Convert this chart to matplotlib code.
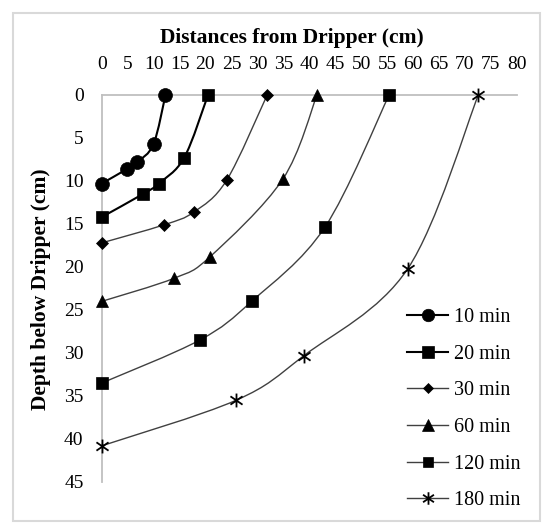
import numpy as np
import matplotlib
matplotlib.use('Agg')
import matplotlib.pyplot as plt
from matplotlib.path import Path
from matplotlib.patches import PathPatch, Rectangle
from matplotlib.lines import Line2D

# distances from dripper (cm) and depth below dripper (cm), per run time
labels = ['10 min', '20 min', '30 min', '60 min', '120 min', '180 min']
dist_10 = [12.3, 10.0, 6.9, 4.9, 0]
depth_10 = [0, 5.7, 7.8, 8.6, 10.3]
dist_20 = [20.5, 15.9, 11.0, 8.0, 0]
depth_20 = [0, 7.3, 10.3, 11.5, 14.2]
dist_30 = [31.9, 24.1, 17.8, 12.0, 0]
depth_30 = [0, 9.9, 13.6, 15.1, 17.2]
dist_60 = [41.5, 34.9, 20.9, 14.0, 0]
depth_60 = [0, 9.8, 18.8, 21.3, 24.0]
dist_120 = [55.4, 43.0, 28.9, 18.9, 0]
depth_120 = [0, 15.4, 24.0, 28.5, 33.5]
dist_180 = [72.6, 59.0, 39.0, 25.9, 0]
depth_180 = [0, 20.2, 30.3, 35.5, 40.8]

xs = [dist_10, dist_20, dist_30, dist_60, dist_120, dist_180]
ys = [depth_10, depth_20, depth_30, depth_60, depth_120, depth_180]

star = Path([(0, -1), (0, 1), (-0.87, -0.6), (0.87, 0.6), (-0.87, 0.6), (0.87, -0.6)],
            [Path.MOVETO, Path.LINETO, Path.MOVETO, Path.LINETO, Path.MOVETO, Path.LINETO])
markers = ['o', 's', 'D', '^', 's', star]
msizes = [10, 8.8, 6.2, 9.3, 8.2, 10]
colors = ['black', 'black', '#404040', '#404040', '#404040', '#404040']
widths = [1.5, 1.5, 1.0, 1.0, 1.0, 1.0]

plt.rcParams['font.family'] = ['Liberation Serif', 'DejaVu Serif']


def smooth_path(x, y):
    # Excel-style smoothed line as cubic Bezier segments through the points
    pts = np.column_stack([x, y]).astype(float)
    n = len(pts)
    verts = [pts[0]]
    codes = [Path.MOVETO]
    for i in range(n - 1):
        p0 = pts[i - 1] if i > 0 else pts[i]
        p1 = pts[i]
        p2 = pts[i + 1]
        p3 = pts[i + 2] if i + 2 < n else pts[i + 1]
        verts += [p1 + (p2 - p0) / 6, p2 - (p3 - p1) / 6, p2]
        codes += [Path.CURVE4] * 3
    return Path(verts, codes)


fig = plt.figure(figsize=(5.49, 5.26), dpi=100)
fig.patches.append(Rectangle((13 / 549, 1 - 521 / 526), 527 / 549, 508 / 526,
                             transform=fig.transFigure, fill=False,
                             edgecolor='#d9d9d9', linewidth=1.5))
ax = fig.add_axes([0.1852, 0.0837, 0.756, 0.7357])

handles = []
for x, y, lab, m, ms, c, w in zip(xs, ys, labels, markers, msizes, colors, widths):
    ax.add_patch(PathPatch(smooth_path(x, y), facecolor='none', edgecolor=c,
                           linewidth=w, zorder=2, clip_on=False))
    mew = 1.3 if m is star else 0.5
    ax.plot(x, y, linestyle='none', marker=m, markersize=ms, color='black',
            markeredgewidth=mew, zorder=3, clip_on=False)
    handles.append(Line2D([], [], color=c, linewidth=w, marker=m, markersize=ms * 0.9,
                          markerfacecolor='black', markeredgecolor='black',
                          markeredgewidth=mew))

ax.set_xlim(0, 80)
ax.set_ylim(45, 0)
ax.set_xticks(range(0, 81, 5))
ax.set_yticks(range(0, 46, 5))
ax.xaxis.tick_top()
ax.tick_params(length=0, labelsize=14, pad=16)
ax.tick_params(axis='y', pad=13)
for side in ['right', 'bottom']:
    ax.spines[side].set_visible(False)
for side in ['top', 'left']:
    ax.spines[side].set_color('#bfbfbf')
    ax.spines[side].set_linewidth(1.3)
ax.patch.set_alpha(0)

fig.text(0.532, 1 - 38 / 526, 'Distances from Dripper (cm)', ha='center', va='center',
         fontsize=15.5, fontweight='bold')
fig.text(41 / 549, 1 - 289 / 526, 'Depth below Dripper (cm)', ha='center', va='center',
         rotation=90, fontsize=15.5, fontweight='bold')

fig.legend(handles=handles, labels=labels, loc='upper left',
           bbox_to_anchor=(389 / 549, 1 - 290 / 526), frameon=False,
           fontsize=14.5, handlelength=2.05, labelspacing=0.87, handletextpad=0.3)

fig.savefig('out.png', dpi=100)
